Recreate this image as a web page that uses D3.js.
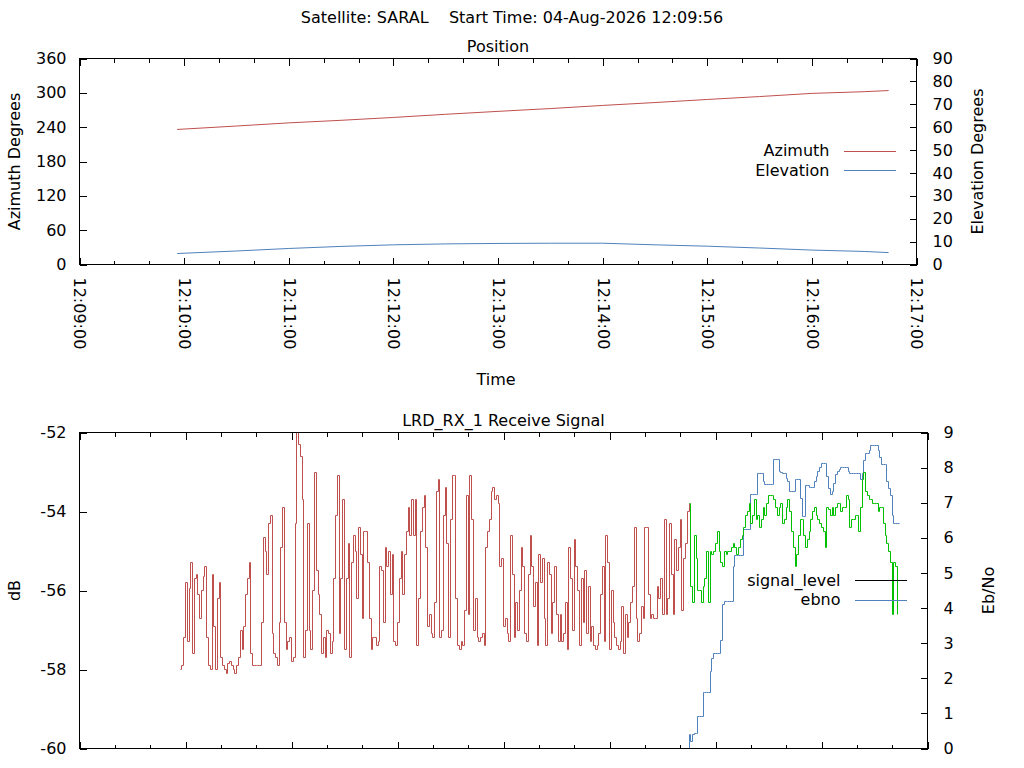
<!DOCTYPE html>
<html>
<head>
<meta charset="utf-8">
<script src="https://cdn.jsdelivr.net/npm/d3@7"></script>
<style>
  body { margin: 0; background: #fff; }
  svg text { font-family: "DejaVu Sans", sans-serif; font-size: 16px; fill: #000; }
</style>
</head>
<body>
<div id="canvas"></div>
<script>
const satellite = "SARAL";
const passStart = "04-Aug-2026 12:09:56";
const day = "2026-08-04";
const xDomain = ["12:09:00", "12:17:00"];

// position plot (read every ~30 s)
const posTimes = ["12:09:56", "12:10:30", "12:11:00", "12:11:30", "12:12:00", "12:12:30", "12:13:00", "12:13:30",
    "12:14:00", "12:14:30", "12:15:00", "12:15:30", "12:16:00", "12:16:30", "12:16:44"];
const azimuth = [236, 242, 247.5, 252, 257, 262.5, 267.6, 272.5, 278, 283, 288.4, 293.5, 299, 302, 304];
const elevation = [4.8, 5.9, 7.0, 7.9, 8.6, 9.0, 9.2, 9.3, 9.3, 8.6, 8.0, 7.2, 6.3, 5.7, 5.2];
const azTicks = [0, 60, 120, 180, 240, 300, 360];
const elTicks = [0, 10, 20, 30, 40, 50, 60, 70, 80, 90];

// receive signal, one sample per second
const signalStart = "12:09:57";
const signalLevel = [
    -58.0, -57.9, -57.2, -55.8, -57.3, -55.95, -55.3, -57.6, -55.7, -55.6,
    -56.1, -56.7, -56.0, -55.65, -55.4, -57.2, -57.9, -58.0, -55.6, -56.9,
    -58.0, -56.2, -55.8, -57.7, -57.9, -58.0, -58.1, -57.85, -57.8, -57.9,
    -58.0, -58.1, -57.9, -57.7, -57.0, -57.5, -56.9, -56.1, -55.7, -55.3,
    -57.6, -57.9, -57.9, -57.9, -57.9, -57.9, -56.8, -54.65, -55.0, -55.6,
    -54.3, -54.1, -57.1, -57.6, -57.7, -57.9, -56.8, -54.9, -53.9, -56.8,
    -57.5, -57.3, -57.2, -57.8, -57.7, -54.3, -52.0, -52.3, -52.6, -53.7,
    -57.7, -57.0, -54.3, -57.0, -57.5, -56.0, -53.0, -55.5, -56.1, -56.6,
    -57.6, -57.2, -57.7, -57.0, -57.1, -57.6, -57.3, -55.7, -54.1, -53.1,
    -57.1, -55.7, -53.7, -57.5, -55.7, -54.8, -57.7, -55.3, -54.6, -55.0,
    -56.2, -54.4, -55.1, -56.7, -54.5, -54.5, -55.3, -56.7, -57.5, -57.2,
    -57.2, -57.4, -57.3, -55.4, -55.5, -56.8, -54.9, -55.4, -55.0, -56.1,
    -55.1, -57.3, -57.4, -56.8, -55.7, -55.0, -56.1, -55.1, -54.5, -53.9,
    -54.6, -53.7, -54.6, -53.7, -57.4, -56.2, -54.5, -53.9, -53.6, -54.9,
    -56.9, -56.6, -57.1, -57.2, -56.3, -53.5, -53.2, -57.2, -57.0, -54.1,
    -53.4, -54.8, -57.2,
    -54.2, -53.1, -53.1, -56.2, -57.4, -57.5, -57.3, -57.4, -56.5, -53.6,
    -56.6, -53.1, -54.2, -57.0, -56.2, -57.2, -57.3, -57.2, -57.1, -57.4,
    -54.9, -54.5, -54.2, -53.5, -53.4, -53.7, -53.6, -53.8, -55.4, -55.2,
    -56.9, -56.7, -57.1, -57.3, -54.6, -55.6, -57.2, -56.3, -57.0, -56.0,
    -54.9, -55.4, -57.1, -57.3, -55.6, -54.6, -55.4, -56.4, -55.8, -57.4,
    -55.1, -55.8, -55.2, -56.7, -57.4, -55.3, -55.6, -57.1, -56.3, -55.4,
    -56.6, -57.3, -56.6, -57.3, -57.1, -56.3, -57.5, -54.9, -55.7, -57.0,
    -54.7, -55.4, -56.0, -57.4, -55.7, -56.8, -55.5, -57.1, -55.9, -57.3,
    -56.9, -57.4, -57.5, -57.4, -57.1, -56.1, -55.4, -57.3, -54.6, -55.3,
    -57.5, -56.0, -56.8, -57.2, -57.4, -57.5, -57.3, -56.4, -57.6, -56.6,
    -57.2, -56.8, -56.3, -55.9, -54.4, -56.7, -57.3, -57.1, -56.4, -56.7,
    -54.4, -54.4, -56.1, -56.7, -56.6, -56.7, -56.7, -55.9, -56.2, -55.7,
    -56.6, -54.2, -56.6, -56.2, -54.3, -55.6, -56.6, -54.7, -55.5, -54.9,
    -54.2, -56.5, -55.2, -54.8, -54.0, -53.8,
    -55.9, -56.3, -54.6, -55.2, -56.0, -56.0, -56.3, -55.9, -55.7, -55.0,
    -56.3, -55.0, -55.1, -55.0, -54.8, -54.5, -55.0, -55.3, -55.4, -55.0,
    -55.1, -55.0, -55.0, -54.9, -54.8, -54.9, -55.1, -54.9, -54.7, -54.6,
    -54.4, -54.1, -54.0, -53.8, -54.3, -54.1, -53.7, -54.2, -54.1, -54.4,
    -54.2, -53.9, -54.1, -53.8, -53.6, -53.6, -53.6, -53.7, -53.9, -54.1,
    -53.9, -53.8, -54.3, -54.2, -53.9, -53.7, -54.0, -54.5, -54.9, -55.4,
    -55.1, -54.6, -54.2, -54.2, -54.6, -54.9, -54.7, -54.5, -54.2, -54.0,
    -53.9, -54.1, -54.2, -54.3, -54.4, -54.5, -54.9, -53.9, -53.95, -54.1,
    -53.9, -54.1, -53.9, -53.8, -53.8, -54.0, -53.9, -53.9, -53.6, -53.7,
    -54.4, -54.2, -54.2, -54.1, -54.1, -54.5, -53.9, -53.2, -53.0, -53.5,
    -53.6, -53.7, -53.7, -53.8, -53.8, -53.8, -54.0, -53.9, -53.9, -54.3,
    -54.6, -54.8, -55.0, -55.3, -56.6, -55.3, -55.4, -56.6
];
const ebnoStart = "12:14:44";
const ebno = [
    0, 0.4, 0.2, 0.4, 0.43, 0.43, 0.92, 0.92, 0.92, 1.59,
    1.59, 1.59, 1.59, 2.2, 2.57, 2.71, 2.71, 2.71, 2.71, 3.09,
    4.09, 4.18, 4.18, 4.18, 4.18, 4.18, 5.18, 5.51, 5.51, 5.51,
    5.51, 5.51, 6.23, 6.23, 6.23, 6.23, 7.22, 7.22, 7.22, 7.22,
    7.82, 7.82, 7.82, 7.6, 7.51, 7.51, 7.51, 7.51, 7.51, 8.22,
    8.22, 8.22, 7.89, 7.85, 7.84, 7.84, 7.7, 7.6, 7.32, 7.32,
    7.32, 7.65, 7.65, 7.65, 7.13, 6.61, 6.61, 7.48, 7.48, 7.42,
    7.42, 7.42, 7.6, 7.75, 7.9, 8.0, 8.11, 8.11, 8.11, 7.75,
    7.4, 7.22, 7.32, 7.55, 7.8, 7.89, 7.95, 8.01, 8.01, 8.01,
    8.01, 7.9, 7.82, 7.82, 7.82, 7.82, 7.82, 7.82, 7.65, 7.82,
    8.2, 8.41, 8.41, 8.5, 8.62, 8.62, 8.62, 8.62, 8.5, 8.3,
    8.1, 8.1, 8.1, 7.6, 7.4, 7.2, 6.65, 6.42, 6.42, 6.42,
    6.42
];
const dbTicks = [-60, -58, -56, -54, -52];
const ebnoTicks = [0, 1, 2, 3, 4, 5, 6, 7, 8, 9];

const colors = { azimuth: "#c0504d", elevation: "#4f81bd", noLock: "#c0504d", lock: "#00c000", ebno: "#4f81bd" };

const parseTime = d3.timeParse("%Y-%m-%d %H:%M:%S");
const at = s => parseTime(`${day} ${s}`);

const svg = d3.select("#canvas").append("svg")
    .attr("width", 1024)
    .attr("height", 768);

svg.append("text")
    .attr("x", 512).attr("y", 17)
    .attr("text-anchor", "middle").attr("dominant-baseline", "central")
    .style("white-space", "pre")
    .text(`Satellite: ${satellite}    Start Time: ${passStart}`);

// draws border, ticks and labels of one panel
function frame(g, w, h, x, yL, yR, o) {
    const major = d3.timeMinute.every(1), minor = d3.timeSecond.every(20);

    const xb = g.append("g").attr("transform", `translate(0,${h})`)
        .call(d3.axisBottom(x).ticks(major).tickSizeInner(-7).tickSizeOuter(0).tickPadding(13)
            .tickFormat(o.xLabels ? d3.timeFormat("%H:%M:%S") : ""));
    xb.selectAll("text")
        .attr("x", 13).attr("y", 0).attr("dy", "0.35em")
        .attr("text-anchor", "start")
        .attr("transform", "rotate(90)");
    g.append("g").attr("transform", `translate(0,${h})`)
        .call(d3.axisBottom(x).ticks(minor).tickSize(-4).tickFormat(""));
    g.append("g").call(d3.axisTop(x).ticks(major).tickSize(-7).tickFormat(""));
    g.append("g").call(d3.axisTop(x).ticks(minor).tickSize(-4).tickFormat(""));

    // plain hyphen for negatives, like the original
    g.append("g")
        .call(d3.axisLeft(yL).tickValues(o.leftTicks).tickSize(-7).tickPadding(13).tickFormat(d => String(d)));
    g.append("g").attr("transform", `translate(${w},0)`)
        .call(d3.axisRight(yR).tickValues(o.rightTicks).tickSize(-7).tickPadding(16).tickFormat(d => String(d)));

    g.selectAll(".domain").remove();
    g.selectAll(".tick line").attr("shape-rendering", "crispEdges");

    g.append("rect")
        .attr("width", w).attr("height", h)
        .attr("fill", "none").attr("stroke", "#000")
        .attr("shape-rendering", "crispEdges");

    g.append("text")
        .attr("x", w / 2).attr("y", -12)
        .attr("text-anchor", "middle").attr("dominant-baseline", "central")
        .text(o.title);
    g.append("text")
        .attr("transform", `translate(${-65},${h / 2}) rotate(-90)`)
        .attr("text-anchor", "middle").attr("dominant-baseline", "central")
        .text(o.leftLabel);
    g.append("text")
        .attr("transform", `translate(${w + 61},${h / 2}) rotate(-90)`)
        .attr("text-anchor", "middle").attr("dominant-baseline", "central")
        .text(o.rightLabel);
}

function legend(g, w, y0, items) {
    items.forEach((d, i) => {
        const y = y0 + i * 19.5;
        g.append("text")
            .attr("x", w - 87).attr("y", y)
            .attr("text-anchor", "end").attr("dominant-baseline", "central")
            .text(d.name);
        g.append("line")
            .attr("x1", w - 73).attr("x2", w - 21)
            .attr("y1", y + 0.5).attr("y2", y + 0.5)
            .attr("stroke", d.color).attr("shape-rendering", "crispEdges");
    });
}

// ---------- Position ----------
{
    const margin = { Top: 58.5, Left: 79.5 };
    const width = 837, height = 206;
    const g = svg.append("g").attr("transform", `translate(${margin.Left}, ${margin.Top})`);

    const x = d3.scaleTime().domain(xDomain.map(at)).range([0, width]);
    const yL = d3.scaleLinear().domain([0, 360]).range([height, 0]);
    const yR = d3.scaleLinear().domain([0, 90]).range([height, 0]);

    const rows = posTimes.map((t, i) => ({ t: at(t), az: azimuth[i], el: elevation[i] }));

    g.append("path").datum(rows)
        .attr("fill", "none").attr("stroke", colors.azimuth).attr("stroke-width", 1)
        .attr("d", d3.line().x(d => x(d.t)).y(d => yL(d.az)));
    g.append("path").datum(rows)
        .attr("fill", "none").attr("stroke", colors.elevation).attr("stroke-width", 1)
        .attr("d", d3.line().x(d => x(d.t)).y(d => yR(d.el)));

    frame(g, width, height, x, yL, yR, {
        xLabels: true, leftTicks: azTicks, rightTicks: elTicks,
        title: "Position", leftLabel: "Azimuth Degrees", rightLabel: "Elevation Degrees"
    });

    g.append("text")
        .attr("x", width / 2 - 2).attr("y", 321)
        .attr("text-anchor", "middle").attr("dominant-baseline", "central")
        .text("Time");

    legend(g, width, 92, [
        { name: "Azimuth", color: colors.azimuth },
        { name: "Elevation", color: colors.elevation }
    ]);
}

// ---------- Receive signal ----------
{
    const margin = { Top: 432.5, Left: 79.5 };
    const width = 848, height = 316;
    const g = svg.append("g").attr("transform", `translate(${margin.Left}, ${margin.Top})`);

    const x = d3.scaleTime().domain(xDomain.map(at)).range([0, width]);
    const yL = d3.scaleLinear().domain([-60, -52]).range([height, 0]);
    const yR = d3.scaleLinear().domain([0, 9]).range([height, 0]);

    const s0 = at(signalStart), e0 = at(ebnoStart);
    const signal = signalLevel.map((v, i) => ({ t: d3.timeSecond.offset(s0, i), v }));
    const ebnoRows = ebno.map((v, i) => ({ t: d3.timeSecond.offset(e0, i), v }));
    const ebnoAt = new Map(ebnoRows.map(d => [+d.t, d.v]));
    const firstLock = signal.findIndex(d => (ebnoAt.get(+d.t) || 0) > 0);

    // snap to whole pixels so the 1px steps stay sharp
    const step = d3.line().curve(d3.curveStepAfter)
        .x(d => Math.round(x(d.t))).y(d => Math.round(yL(d.v)));
    const stepR = d3.line().curve(d3.curveStepAfter)
        .x(d => Math.round(x(d.t))).y(d => Math.round(yR(d.v)));

    g.append("path").datum(ebnoRows)
        .attr("fill", "none").attr("stroke", colors.ebno)
        .attr("d", stepR);
    g.append("path").datum(signal.slice(0, firstLock + 1))
        .attr("fill", "none").attr("stroke", colors.noLock)
        .attr("d", step);
    g.append("path").datum(signal.slice(firstLock))
        .attr("fill", "none").attr("stroke", colors.lock)
        .attr("d", step);

    frame(g, width, height, x, yL, yR, {
        xLabels: false, leftTicks: dbTicks, rightTicks: ebnoTicks,
        title: "LRD_RX_1 Receive Signal", leftLabel: "dB", rightLabel: "Eb/No"
    });

    legend(g, width, 147.5, [
        { name: "signal_level", color: "#000" },
        { name: "ebno", color: colors.ebno }
    ]);
}
</script>
</body>
</html>
